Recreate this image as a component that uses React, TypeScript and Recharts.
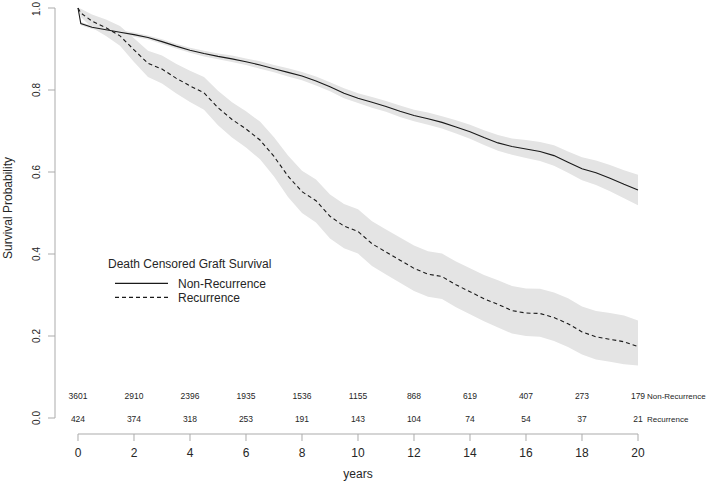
import React from "react";
import {
  ComposedChart,
  Area,
  Line,
  Scatter,
  XAxis,
  YAxis,
  ReferenceLine,
  Legend,
} from "recharts";

const times = [
  0, 0.1, 0.5, 1, 1.5, 2, 2.5, 3, 3.5, 4, 4.5, 5, 5.5, 6, 6.5, 7, 7.5, 8, 8.5, 9, 9.5, 10,
  10.5, 11, 11.5, 12, 12.5, 13, 13.5, 14, 14.5, 15, 15.5, 16, 16.5, 17, 17.5, 18, 18.5, 19, 19.5, 20,
];

const nonRecSurv = [
  1.0, 0.962, 0.953, 0.947, 0.941, 0.935, 0.928, 0.918, 0.907, 0.897, 0.889, 0.882, 0.876, 0.869,
  0.861, 0.852, 0.843, 0.834, 0.822, 0.808, 0.792, 0.78, 0.77, 0.76, 0.748, 0.738, 0.73, 0.721,
  0.71, 0.698, 0.684, 0.671, 0.662, 0.656, 0.65, 0.64, 0.624, 0.608, 0.598, 0.585, 0.57, 0.556,
];
const nonRecLower = [
  1.0, 0.958, 0.949, 0.943, 0.936, 0.93, 0.923, 0.912, 0.901, 0.891, 0.882, 0.875, 0.868, 0.861,
  0.852, 0.843, 0.833, 0.824, 0.811, 0.797, 0.78, 0.768, 0.757, 0.747, 0.734, 0.724, 0.715, 0.706,
  0.694, 0.681, 0.666, 0.652, 0.642, 0.634, 0.627, 0.615, 0.598, 0.58, 0.568, 0.553, 0.536, 0.519,
];
const nonRecUpper = [
  1.0, 0.966, 0.957, 0.951, 0.946, 0.94, 0.933, 0.924, 0.913, 0.903, 0.896, 0.889, 0.884, 0.877,
  0.87, 0.861, 0.853, 0.844, 0.833, 0.819, 0.804, 0.792, 0.783, 0.773, 0.762, 0.752, 0.745, 0.736,
  0.726, 0.715, 0.702, 0.69, 0.682, 0.678, 0.673, 0.665, 0.65, 0.636, 0.628, 0.617, 0.604, 0.593,
];

const recSurv = [
  1.0, 0.988, 0.968, 0.952, 0.932, 0.898, 0.865, 0.851, 0.829, 0.81, 0.793, 0.757, 0.728, 0.705,
  0.678, 0.638, 0.59, 0.552, 0.53, 0.492, 0.468, 0.455, 0.425, 0.405, 0.385, 0.365, 0.351, 0.345,
  0.325, 0.308, 0.291, 0.277, 0.262, 0.256, 0.255, 0.245, 0.23, 0.21, 0.198, 0.192, 0.186, 0.174,
];
const recLower = [
  1.0, 0.978, 0.952, 0.932, 0.908, 0.868, 0.832, 0.816, 0.792, 0.771, 0.752, 0.714, 0.684, 0.66,
  0.631, 0.589, 0.539, 0.5, 0.477, 0.438, 0.414, 0.401, 0.371, 0.35, 0.33, 0.31, 0.296, 0.29,
  0.27, 0.253, 0.236, 0.221, 0.206, 0.2, 0.198, 0.188, 0.173, 0.155, 0.143, 0.137, 0.131, 0.128,
];
const recUpper = [
  1.0, 0.998, 0.984, 0.972, 0.956, 0.926, 0.896, 0.884, 0.864, 0.847, 0.832, 0.798, 0.77, 0.748,
  0.723, 0.685, 0.64, 0.603, 0.582, 0.545, 0.522, 0.509, 0.48, 0.46, 0.44, 0.421, 0.407, 0.401,
  0.382, 0.365, 0.349, 0.336, 0.322, 0.316, 0.315, 0.306, 0.292, 0.272, 0.261, 0.256, 0.25, 0.238,
];

// numbers at risk
const riskTimes = [0, 2, 4, 6, 8, 10, 12, 14, 16, 18, 20];
const nonRecRisk = [3601, 2910, 2396, 1935, 1536, 1155, 868, 619, 407, 273, 179];
const recRisk = [424, 374, 318, 253, 191, 143, 104, 74, 54, 37, 21];

const xTicks = [0, 2, 4, 6, 8, 10, 12, 14, 16, 18, 20];
const yTicks = [0, 0.2, 0.4, 0.6, 0.8, 1.0];

const FONT = '"Liberation Sans", Arial, Helvetica, sans-serif';
const AXIS_GRAY = "#ababab";
const TEXT = "#262626";
const BAND = "#e4e4e4";
const X_MIN = -0.8214; // R-style axis offset
const Y_MIN = -0.039;

const rows = times.map((t, i) => ({
  t,
  nr: nonRecSurv[i],
  nrBand: [nonRecLower[i], nonRecUpper[i]],
  rec: recSurv[i],
  recBand: [recLower[i], recUpper[i]],
}));

const nonRecTable = riskTimes.map((t, i) => ({ t, y: 0.054, n: nonRecRisk[i] }));
const recTable = riskTimes.map((t, i) => ({ t, y: -0.003, n: recRisk[i] }));

const riskShape = (label: string) => (props: any) => {
  const { cx, cy, payload } = props;
  return (
    <g>
      <text x={cx} y={cy + 3} textAnchor="middle" fontSize={8.5} fill={TEXT} fontFamily={FONT}>
        {payload.n}
      </text>
      {payload.t === 20 && (
        <text x={cx + 9} y={cy + 3} fontSize={8} fill={TEXT} fontFamily={FONT}>
          {label}
        </text>
      )}
    </g>
  );
};

const YTick = (props: any) => {
  const { x, y, payload } = props;
  return (
    <text x={x} y={y} transform={`rotate(-90, ${x}, ${y})`} textAnchor="middle" fontSize={10} fill={TEXT} fontFamily={FONT}>
      {payload.value.toFixed(1)}
    </text>
  );
};

const LegendBox = () => (
  <svg width={220} height={56} style={{ display: "block", fontFamily: FONT }}>
    <text x={8} y={16} fontSize={12} fill={TEXT}>Death Censored Graft Survival</text>
    <line x1={15} x2={68} y1={31.3} y2={31.3} stroke="#1a1a1a" strokeWidth={1.2} />
    <text x={78} y={35.6} fontSize={12} fill={TEXT}>Non-Recurrence</text>
    <line x1={15} x2={68} y1={45.3} y2={45.3} stroke="#1a1a1a" strokeWidth={1.2} strokeDasharray="4 3" />
    <text x={78} y={49.6} fontSize={12} fill={TEXT}>Recurrence</text>
  </svg>
);

export default function App() {
  return (
    <div style={{ position: "absolute", left: 0, top: 0, background: "#fff" }}>
      <ComposedChart
        width={709}
        height={483}
        data={rows}
        margin={{ top: 8, right: 71, bottom: 0, left: 0 }}
        style={{ fontFamily: FONT }}
      >
        <XAxis
          dataKey="t"
          type="number"
          domain={[X_MIN, 20]}
          ticks={xTicks}
          axisLine={false}
          tickLine={{ stroke: AXIS_GRAY }}
          tickSize={7}
          tickMargin={7}
          height={49}
          tick={{ fontSize: 12, fill: TEXT }}
          label={{
            content: (p: any) => {
              const vb = p.viewBox ?? { x: 55, y: 434, width: 583, height: 49 };
              return (
                <text x={vb.x + 303} y={vb.y + 44} textAnchor="middle" fontSize={12} fill={TEXT} fontFamily={FONT}>
                  years
                </text>
              );
            },
          }}
        />
        <YAxis
          type="number"
          domain={[Y_MIN, 1]}
          ticks={yTicks}
          axisLine={false}
          tickLine={{ stroke: AXIS_GRAY }}
          tickSize={7}
          tickMargin={8}
          width={55}
          tick={<YTick />}
          label={{
            content: (p: any) => {
              const vb = p.viewBox ?? { x: 0, y: 8, width: 55, height: 426 };
              const x = vb.x + 12;
              const y = vb.y + 200;
              return (
                <text x={x} y={y} transform={`rotate(-90, ${x}, ${y})`} textAnchor="middle" fontSize={12} fill={TEXT} fontFamily={FONT}>
                  Survival Probability
                </text>
              );
            },
          }}
        />
        <ReferenceLine segment={[{ x: 0, y: Y_MIN }, { x: 20, y: Y_MIN }]} stroke={AXIS_GRAY} ifOverflow="visible" />
        <ReferenceLine segment={[{ x: X_MIN, y: 0 }, { x: X_MIN, y: 1 }]} stroke={AXIS_GRAY} ifOverflow="visible" />

        <Area dataKey="nrBand" type="linear" fill={BAND} fillOpacity={1} stroke="none" isAnimationActive={false} />
        <Area dataKey="recBand" type="linear" fill={BAND} fillOpacity={1} stroke="none" isAnimationActive={false} />
        <Line dataKey="nr" type="linear" stroke="#1a1a1a" strokeWidth={1.1} dot={false} isAnimationActive={false} />
        <Line dataKey="rec" type="linear" stroke="#1a1a1a" strokeWidth={1.1} strokeDasharray="4 3" dot={false} isAnimationActive={false} />

        <Scatter data={nonRecTable} dataKey="y" shape={riskShape("Non-Recurrence")} isAnimationActive={false} />
        <Scatter data={recTable} dataKey="y" shape={riskShape("Recurrence")} isAnimationActive={false} />

        <Legend
          layout="vertical"
          align="center"
          verticalAlign="middle"
          content={() => <LegendBox />}
          wrapperStyle={{ left: 100, top: 252, width: 220, height: 56 }}
        />
      </ComposedChart>
    </div>
  );
}
